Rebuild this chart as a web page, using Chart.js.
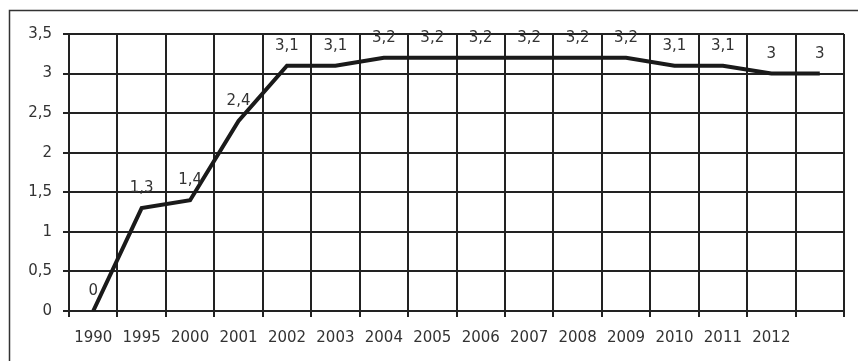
<!DOCTYPE html>
<html>
<head>
<meta charset="utf-8">
<style>
  html, body { margin: 0; padding: 0; background: #fff; }
  #wrap { width: 858px; height: 361px; position: relative; }
</style>
<script src="https://cdn.jsdelivr.net/npm/chart.js@4/dist/chart.umd.min.js"></script>
</head>
<body>
<div id="wrap"><canvas id="c" width="858" height="361"></canvas></div>
<script>
// Categories (the last slot has no caption)
const years = ['1990', '1995', '2000', '2001', '2002', '2003', '2004', '2005',
               '2006', '2007', '2008', '2009', '2010', '2011', '2012', ''];
// Series values
const values = [0, 1.3, 1.4, 2.4, 3.1, 3.1, 3.2, 3.2, 3.2, 3.2, 3.2, 3.2, 3.1, 3.1, 3, 3];
// Value axis range
const yMin = 0, yMax = 3.5, yStep = 0.5;

const INK = '#222';
const TEXT = '#333';
const FONT = 'DejaVu Sans';
const SIZE = 15;

const fmt = v => String(v).replace('.', ',');

// Outer frame around the whole chart
const framePlugin = {
  id: 'frame',
  beforeDraw(chart) {
    const ctx = chart.ctx;
    ctx.save();
    ctx.strokeStyle = '#333';
    ctx.lineWidth = 1.5;
    ctx.strokeRect(9.5, 10.5, 1000, 500);
    ctx.restore();
  }
};

// Value labels above each point
const valueLabels = {
  id: 'valueLabels',
  afterDatasetsDraw(chart) {
    const ctx = chart.ctx;
    const meta = chart.getDatasetMeta(0);
    ctx.save();
    ctx.font = SIZE + 'px "' + FONT + '"';
    ctx.fillStyle = TEXT;
    ctx.textAlign = 'center';
    ctx.textBaseline = 'alphabetic';
    meta.data.forEach((pt, i) => {
      ctx.fillText(fmt(values[i]), pt.x, pt.y - 16);
    });
    ctx.restore();
  }
};

new Chart(document.getElementById('c'), {
  type: 'line',
  data: {
    labels: years,
    datasets: [{
      data: values,
      borderColor: '#1a1a1a',
      borderWidth: 4,
      pointRadius: 0,
      tension: 0,
      borderJoinStyle: 'miter',
      borderCapStyle: 'butt'
    }]
  },
  options: {
    responsive: false,
    animation: false,
    events: [],
    layout: { padding: { left: 0, top: 34, right: 14, bottom: 0 } },
    plugins: { legend: { display: false }, tooltip: { enabled: false } },
    scales: {
      x: {
        type: 'category',
        offset: true,
        grid: {
          offset: true,
          color: INK,
          lineWidth: 2,
          tickLength: 6,
          drawTicks: true
        },
        border: { color: INK, width: 2 },
        ticks: {
          color: TEXT,
          font: { family: FONT, size: SIZE },
          padding: 12,
          maxRotation: 0,
          autoSkip: false
        },
        afterFit(scale) { scale.height = 50; }
      },
      y: {
        min: yMin,
        max: yMax,
        grid: {
          color: INK,
          lineWidth: 2,
          tickLength: 6
        },
        border: { color: INK, width: 2 },
        ticks: {
          stepSize: yStep,
          color: TEXT,
          font: { family: FONT, size: SIZE },
          padding: 11,
          callback: v => fmt(v)
        },
        afterFit(scale) { scale.width = 69; }
      }
    }
  },
  plugins: [framePlugin, valueLabels]
});
</script>
</body>
</html>
